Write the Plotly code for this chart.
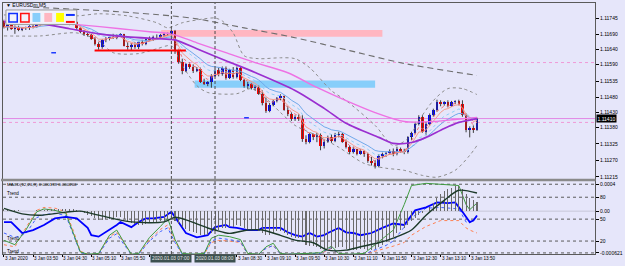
import plotly.graph_objects as go
import pandas as pd

# ---------------- data: EURUSDm M5, 3 Jan 2020 (bar 0 = 03:10) ----------------
PT = 1e-5  # prices below are given in points (price * 1e5)

open_pts = [111735, 111715, 111724, 111710, 111715, 111706, 111713, 111711, 111720, 111715,
            111722, 111733, 111728, 111735, 111731, 111733, 111728, 111731, 111733, 111726,
            111731, 111711, 111698, 111693, 111689, 111676, 111660, 111649, 111673, 111680,
            111684, 111680, 111689, 111691, 111654, 111649, 111657, 111649, 111665, 111660,
            111676, 111673, 111684, 111682, 111689, 111693, 111691, 111704, 111635, 111599,
            111569, 111591, 111582, 111569, 111576, 111533, 111526, 111531, 111553, 111571,
            111558, 111579, 111546, 111571, 111549, 111578, 111540, 111518, 111526, 111513,
            111515, 111493, 111462, 111436, 111456, 111469, 111478, 111484, 111440, 111424,
            111407, 111416, 111409, 111340, 111332, 111358, 111347, 111356, 111318, 111333,
            111349, 111336, 111356, 111360, 111333, 111316, 111299, 111307, 111293, 111302,
            111291, 111269, 111260, 111251, 111284, 111291, 111296, 111302, 111291, 111309,
            111302, 111298, 111347, 111362, 111391, 111416, 111366, 111391, 111421, 111438,
            111465, 111458, 111464, 111451, 111465, 111467, 111460, 111421, 111371, 111378,
            111373]
high_pts = [111740, 111726, 111728, 111721, 111720, 111715, 111717, 111722, 111724, 111726,
            111737, 111740, 111737, 111740, 111737, 111737, 111735, 111737, 111740, 111735,
            111735, 111715, 111706, 111697, 111693, 111682, 111665, 111676, 111682, 111687,
            111693, 111691, 111695, 111693, 111665, 111662, 111665, 111669, 111673, 111680,
            111684, 111687, 111691, 111693, 111695, 111697, 111708, 111706, 111640, 111610,
            111595, 111597, 111591, 111582, 111580, 111543, 111535, 111558, 111576, 111580,
            111584, 111584, 111576, 111582, 111584, 111582, 111543, 111532, 111529, 111521,
            111520, 111504, 111480, 111462, 111473, 111482, 111491, 111487, 111451, 111431,
            111421, 111424, 111421, 111354, 111362, 111360, 111362, 111360, 111340, 111353,
            111358, 111362, 111366, 111362, 111340, 111321, 111316, 111309, 111307, 111304,
            111296, 111282, 111271, 111291, 111296, 111299, 111307, 111310, 111316, 111313,
            111309, 111351, 111366, 111399, 111421, 111421, 111399, 111427, 111443, 111473,
            111471, 111468, 111471, 111469, 111471, 111473, 111471, 111427, 111384, 111387,
            111413]
low_pts = [111711, 111704, 111706, 111693, 111702, 111702, 111706, 111706, 111711, 111713,
           111717, 111724, 111726, 111726, 111726, 111724, 111724, 111726, 111722, 111722,
           111706, 111695, 111686, 111684, 111673, 111654, 111640, 111643, 111665, 111671,
           111676, 111675, 111682, 111651, 111640, 111637, 111643, 111642, 111654, 111655,
           111669, 111669, 111677, 111677, 111682, 111686, 111687, 111626, 111593, 111558,
           111565, 111576, 111562, 111565, 111529, 111522, 111518, 111513, 111549, 111551,
           111553, 111540, 111542, 111543, 111544, 111535, 111513, 111509, 111507, 111504,
           111489, 111454, 111429, 111431, 111451, 111464, 111471, 111436, 111418, 111402,
           111402, 111402, 111332, 111324, 111327, 111338, 111331, 111304, 111310, 111329,
           111329, 111331, 111347, 111329, 111310, 111291, 111293, 111287, 111289, 111282,
           111262, 111253, 111243, 111247, 111277, 111282, 111289, 111284, 111287, 111296,
           111291, 111293, 111338, 111358, 111387, 111362, 111354, 111387, 111416, 111433,
           111451, 111453, 111447, 111449, 111458, 111454, 111416, 111364, 111347, 111362,
           111369]
close_pts = [111715, 111724, 111710, 111717, 111706, 111713, 111711, 111720, 111715, 111724,
             111733, 111728, 111735, 111731, 111733, 111728, 111731, 111733, 111726, 111731,
             111711, 111698, 111693, 111689, 111676, 111660, 111649, 111673, 111680, 111684,
             111680, 111689, 111691, 111654, 111649, 111657, 111649, 111665, 111660, 111676,
             111673, 111684, 111682, 111689, 111693, 111691, 111704, 111635, 111599, 111569,
             111591, 111582, 111569, 111576, 111533, 111526, 111531, 111553, 111571, 111558,
             111579, 111546, 111571, 111549, 111578, 111540, 111518, 111526, 111513, 111515,
             111493, 111462, 111436, 111456, 111469, 111478, 111484, 111440, 111424, 111407,
             111416, 111409, 111340, 111332, 111358, 111347, 111356, 111318, 111333, 111349,
             111336, 111356, 111360, 111333, 111316, 111299, 111307, 111293, 111302, 111291,
             111269, 111260, 111251, 111284, 111291, 111296, 111302, 111291, 111309, 111302,
             111298, 111347, 111362, 111391, 111416, 111366, 111391, 111421, 111438, 111465,
             111458, 111464, 111451, 111465, 111467, 111460, 111421, 111371, 111378, 111373,
             111410]

# visible time labels (the ones under the two vertical-line tags are hidden)
time_tick_bars = [0, 8, 16, 24, 32, 64, 72, 80, 88, 96, 104, 112, 120, 128]
time_tick_labels = ["3 Jan 2020", "3 Jan 03:50", "3 Jan 04:30", "3 Jan 05:10", "3 Jan 05:50",
                    "3 Jan 08:30", "3 Jan 09:10", "3 Jan 09:50", "3 Jan 10:30", "3 Jan 11:10",
                    "3 Jan 11:50", "3 Jan 12:30", "3 Jan 13:10", "3 Jan 13:50"]
time_mark_bars = [0, 8, 16, 24, 32, 40, 48, 56, 64, 72, 80, 88, 96, 104, 112, 120, 128]

price_ticks = [1.11745, 1.11690, 1.11640, 1.11590, 1.11535, 1.11480,
               1.11430, 1.11380, 1.11325, 1.11270, 1.11215]
current_price = 1.11410

# moving averages / bands (bar index, price points)
purple_bars = [0, 10, 18, 26, 34, 42, 47, 53, 61, 69, 80, 88, 94, 103, 107, 112, 116, 121, 125, 130]
purple_pts = [111733, 111727, 111710, 111693, 111683, 111677, 111673, 111643, 111603, 111564,
              111504, 111444, 111394, 111347, 111327, 111330, 111347, 111377, 111397, 111410]
pink_bars = [0, 10, 21, 32, 40, 46, 53, 61, 69, 78, 86, 94, 102, 110, 118, 124, 130]
pink_pts = [111737, 111733, 111723, 111710, 111700, 111693, 111663, 111630, 111597, 111563,
            111514, 111470, 111430, 111400, 111400, 111407, 111414]
slow_bars = [8, 30, 46, 53, 66, 80, 95, 110, 130]
slow_pts = [111782, 111768, 111753, 111743, 111713, 111680, 111637, 111594, 111554]
upper_bars = [0, 10, 20, 26, 34, 42, 45, 49, 55, 58, 60, 63, 66, 70, 76, 80, 84, 90, 94, 102,
              107, 111, 114, 118, 122, 126, 130]
upper_pts = [111756, 111760, 111753, 111760, 111753, 111730, 111713, 111730, 111743, 111746,
             111736, 111696, 111620, 111610, 111613, 111610, 111580, 111503, 111470, 111387,
             111320, 111343, 111403, 111470, 111510, 111510, 111490]
lower_bars = [0, 10, 20, 26, 30, 37, 42, 46, 49, 53, 56, 64, 68, 72, 76, 80, 86, 92, 99, 105,
              110, 115, 119, 124, 128, 130]
lower_pts = [111686, 111686, 111696, 111670, 111630, 111627, 111643, 111653, 111587, 111520,
             111497, 111493, 111510, 111477, 111430, 111387, 111353, 111314, 111260, 111244,
             111237, 111220, 111214, 111237, 111287, 111320]

# chart objects
zone_pink = [43.2, 104.0, 1.11683, 1.11706]
zone_blue = [52.4, 102.0, 1.11513, 1.11537]
support_line = [24.9, 50.0, 1.11637]
dotted_levels = [1.11597, 1.11397]
vline_bars = [46, 58]
vline_labels = ["2020.01.03 07:00", "2020.01.03 08:00"]
dash_marks = [[13.0, 14.3, 1.11630], [66.0, 67.3, 1.11413]]

# lower window: MACD histogram (units of 1e-5) and its signal
macd_e5 = [3, 2, 2, 1, 1, 0, 0, 0, 0, 1,
           2, 2, 3, 3, 3, 3, 3, 3, 3, 3,
           1, -1, -3, -5, -7, -10, -13, -13, -12, -11,
           -10, -9, -9, -12, -15, -17, -19, -20, -20, -19,
           -18, -17, -16, -15, -14, -12, -10, -14, -19, -24,
           -27, -29, -31, -33, -35, -36, -35, -33, -30, -28,
           -25, -25, -23, -23, -21, -22, -25, -26, -27, -28,
           -30, -33, -36, -35, -33, -30, -29, -32, -35, -38,
           -40, -40, -46, -50, -52, -52, -53, -56, -57, -57,
           -56, -55, -53, -54, -56, -58, -58, -58, -57, -57,
           -58, -58, -57, -54, -50, -46, -42, -38, -33, -28,
           -25, -20, -15, -10, -6, -3, 0, 6, 12, 19,
           25, 30, 33, 35, 37, 37, 33, 26, 20, 16,
           14]
signal_bars = [0, 5, 10, 17, 21, 26, 35, 44, 47, 50, 56, 58, 62, 67, 71, 76, 80, 85, 89, 94,
               98, 103, 107, 112, 116, 121, 125, 130]
signal_e5 = [4, -4, -6, -1.5, 0, -6, -16, -16, -9, -13, -25, -28, -33, -28, -28, -36, -43, -47,
             -58, -58, -53, -47, -40, -28, -6, 16, 31, 27]
blue_bars = [0, 2, 5, 8, 11, 14, 17, 20, 23, 24, 26, 28, 31, 32, 35, 37, 39, 41, 44, 46,
             48, 50, 53, 56, 58, 61, 62, 64, 67, 70, 71, 76, 78, 80, 82, 84, 86, 88, 89, 92,
             94, 96, 98, 101, 104, 107, 110, 113, 116, 119, 122, 124, 126, 128, 129, 130]
blue_vals = [46, 46, 31, 35, 42, 51, 53, 51, 38, 28, 26, 32, 42, 46, 39, 46, 51, 51, 53, 60,
             46, 31, 25, 28, 39, 42, 39, 38, 35, 35, 38, 38, 32, 28, 26, 31, 26, 28, 31, 38,
             32, 31, 28, 31, 38, 44, 42, 62, 66, 73, 72, 73, 60, 46, 48, 55]
stoch_bars = [0, 3, 6, 9, 11, 14, 17, 19, 21, 23, 26, 29, 31, 33, 35, 37, 40, 43, 45, 47,
              49, 52, 55, 57, 59, 62, 65, 67, 70, 72, 74, 76, 78, 83, 87, 89, 90, 92, 95, 99,
              102, 105, 107, 110, 112, 116, 120, 125, 127, 128, 130]
stoch_green = [21, 15, 35, 60, 64, 62, 58, 32, 5, 2, 3, 28, 35, 18, 2, 3, 25, 40, 51, 22,
               3, 2, 3, 24, 28, 26, 22, 3, 2, 12, 17, 3, 2, 3, 4, 10, 13, 3, 2, 3,
               15, 28, 35, 70, 96, 99, 98, 96, 70, 63, 72]
stoch_blue = [31, 25, 30, 52, 56, 58, 55, 30, 4, 2, 2, 24, 30, 15, 2, 2, 20, 33, 38, 18,
              2, 2, 2, 20, 24, 22, 19, 2, 2, 10, 14, 2, 2, 2, 3, 9, 11, 2, 2, 2,
              8, 14, 20, 40, 52, 65, 66, 64, 46, 45, 53]
stoch_orange = [15, 12, 38, 62, 66, 65, 60, 35, 6, 2, 2, 26, 32, 16, 2, 2, 22, 36, 42, 20,
                2, 2, 2, 18, 21, 20, 18, 2, 2, 10, 14, 2, 2, 2, 2, 8, 10, 2, 2, 2,
                6, 10, 13, 18, 28, 40, 48, 48, 38, 35, 31]
osc_levels = [80, 50, 20]
macd_levels = [0.0004, -0.000621]

# ---------------- geometry helpers (pixel -> paper) ----------------
W, H = 625, 266
ML, MR, MT, MB = 2, 21, 2, 12
PW, PH = W - ML - MR, H - MT - MB
def px(x): return (x - ML) / PW
def py(y): return (H - MB - y) / PH

FONT = "Liberation Sans, Arial, sans-serif"
BG = "#E6E6FA"
XR = [-0.27, 162.43]

n = len(close_pts)
idx = list(range(n))
o = [v * PT for v in open_pts]
h = [v * PT for v in high_pts]
l = [v * PT for v in low_pts]
c = [v * PT for v in close_pts]
close_s = pd.Series(c)

fig = go.Figure()

def pline(xs, ys, color, width=1, dash=None, shape="spline", xa="x", ya="y"):
    fig.add_trace(go.Scatter(x=xs, y=ys, mode="lines", xaxis=xa, yaxis=ya,
                             line=dict(color=color, width=width, dash=dash, shape=shape,
                                       smoothing=0.8 if shape == "spline" else None),
                             hoverinfo="skip"))

# bands and slow averages (behind)
pline(upper_bars, [v * PT for v in upper_pts], "#8c8c8c", 1, "dot")
pline(lower_bars, [v * PT for v in lower_pts], "#8c8c8c", 1, "dot")
pline(slow_bars, [v * PT for v in slow_pts], "#6e6e6e", 1.1, "6px,4px")

# candles: wicks then bodies
wx, wy = [], []
for i in idx:
    wx += [i, i, None]
    wy += [l[i], h[i], None]
fig.add_trace(go.Scatter(x=wx, y=wy, mode="lines", line=dict(color="#3c3c3c", width=1),
                         hoverinfo="skip"))
bases = [min(a, b) for a, b in zip(o, c)]
hgts = [max(abs(a - b), 0.000012) for a, b in zip(o, c)]
cols = ["#0000FF" if cc >= oo else "#FF0000" for oo, cc in zip(o, c)]
fig.add_trace(go.Bar(x=idx, y=hgts, base=bases, width=0.7,
                     marker=dict(color=cols, line=dict(width=0)), hoverinfo="skip"))

# fast averages derived from the closes
pline(idx, close_s.ewm(span=14, adjust=False).mean().tolist(), "#6fa8ea", 1, None, "linear")
pline(idx, close_s.ewm(span=10, adjust=False).mean().tolist(), "#8fcdf5", 1, "dot", "linear")
pline(idx, close_s.ewm(span=6, adjust=False).mean().tolist(), "#f59a8a", 1, None, "linear")
pline(idx, close_s.ewm(span=4, adjust=False).mean().tolist(), "#f07070", 1, "dot", "linear")
pline(pink_bars, [v * PT for v in pink_pts], "#ee72e4", 1.4)
pline(purple_bars, [v * PT for v in purple_pts], "#9a2fd0", 1.7)

for a, b, p in dash_marks:
    pline([a, b], [p, p], "#1f3cff", 1.5, None, "linear")

# ---------------- lower window ----------------
fig.add_trace(go.Bar(x=idx, y=[v * 1e-5 for v in macd_e5], xaxis="x2", yaxis="y3",
                     width=0.28, marker=dict(color="#6a6a6a", line=dict(width=0)),
                     hoverinfo="skip"))
pline(stoch_bars, stoch_orange, "#ff7f50", 1, "dot", "linear", "x2", "y2")
pline(stoch_bars, stoch_blue, "#4060ff", 1, "dot", "linear", "x2", "y2")
pline(stoch_bars, stoch_green, "#3f9a3f", 1, None, "linear", "x2", "y2")
pline(blue_bars, blue_vals, "#0000ff", 1.8, None, "linear", "x2", "y2")
pline(signal_bars, [v * 1e-5 for v in signal_e5], "#1d3a2a", 1.4, None, "spline", "x2", "y3")

# ---------------- shapes ----------------
shapes = []
shapes.append(dict(type="rect", xref="x", yref="y", x0=zone_pink[0], x1=zone_pink[1],
                   y0=zone_pink[2], y1=zone_pink[3], fillcolor="#FFB6C1", line=dict(width=0),
                   layer="below"))
shapes.append(dict(type="rect", xref="x", yref="y", x0=zone_blue[0], x1=zone_blue[1],
                   y0=zone_blue[2], y1=zone_blue[3], fillcolor="#87CEFA", line=dict(width=0),
                   layer="below"))
shapes.append(dict(type="line", xref="x", yref="y", x0=support_line[0], x1=support_line[1],
                   y0=support_line[2], y1=support_line[2], line=dict(color="#FF0000", width=2)))
shapes.append(dict(type="line", xref="paper", yref="y", x0=0, x1=1, y0=current_price,
                   y1=current_price, line=dict(color="#e28ae6", width=1), layer="below"))
for lv in dotted_levels:
    shapes.append(dict(type="line", xref="paper", yref="y", x0=0, x1=1, y0=lv, y1=lv,
                       line=dict(color="#f09ad8", width=1, dash="dot"), layer="below"))
for lv in osc_levels:
    shapes.append(dict(type="line", xref="paper", yref="y2", x0=0, x1=1, y0=lv, y1=lv,
                       line=dict(color="#5a5a5a", width=1, dash="dot"), layer="below"))
for lv in macd_levels:
    shapes.append(dict(type="line", xref="paper", yref="y3", x0=0, x1=1, y0=lv, y1=lv,
                       line=dict(color="#5a5a5a", width=1, dash="dot"), layer="below"))
shapes.append(dict(type="line", xref="paper", yref="y3", x0=0, x1=1, y0=0, y1=0,
                   line=dict(color="#c8c8d8", width=1), layer="below"))
for vb in vline_bars:
    shapes.append(dict(type="line", xref="x", yref="paper", x0=vb, x1=vb, y0=0, y1=1,
                       line=dict(color="#4a4a4a", width=1, dash="3px,2px")))
# separator between windows
shapes.append(dict(type="rect", xref="paper", yref="paper", x0=px(0), x1=px(604.5),
                   y0=py(181), y1=py(178.5), fillcolor="#8a8a8a", line=dict(width=0)))
# objects toolbar at top-left
shapes.append(dict(type="rect", xref="paper", yref="paper", x0=px(5), x1=px(77), y0=py(23.5),
                   y1=py(9), fillcolor="#f2f2fb", line=dict(color="#9a9a9a", width=1)))
shapes.append(dict(type="rect", xref="paper", yref="paper", x0=px(8), x1=px(16.5), y0=py(21),
                   y1=py(12.5), fillcolor="rgba(0,0,0,0)", line=dict(color="#1030ff", width=1.5)))
shapes.append(dict(type="rect", xref="paper", yref="paper", x0=px(20), x1=px(28.5), y0=py(21),
                   y1=py(12.5), fillcolor="rgba(0,0,0,0)", line=dict(color="#ff1010", width=1.5)))
for x0, col in [(32, "#87CEFA"), (44, "#FFB6C1"), (56, "#FFFF00")]:
    shapes.append(dict(type="rect", xref="paper", yref="paper", x0=px(x0), x1=px(x0 + 8),
                       y0=py(21), y1=py(12), fillcolor=col, line=dict(width=0)))
shapes.append(dict(type="line", xref="paper", yref="paper", x0=px(66), x1=px(75), y0=py(14),
                   y1=py(14), line=dict(color="#1030ff", width=2)))
shapes.append(dict(type="line", xref="paper", yref="paper", x0=px(66), x1=px(75), y0=py(21),
                   y1=py(21), line=dict(color="#ff1010", width=2)))

# ---------------- annotations ----------------
ann = []
for b, t in zip(time_tick_bars, time_tick_labels):
    ann.append(dict(x=b, xref="x2", y=py(258.5), yref="paper", text=t, showarrow=False,
                    xanchor="left", yanchor="middle", xshift=-1,
                    font=dict(size=4.6, color="#000000", family=FONT)))
for vb, t in zip(vline_bars, vline_labels):
    ann.append(dict(x=vb, xref="x2", y=py(258.5), yref="paper", text=t, showarrow=False,
                    xanchor="center", yanchor="middle", bgcolor="#3c5050", borderpad=1,
                    font=dict(size=4.8, color="#e8e8e8", family=FONT)))
ann.append(dict(x=1, xref="paper", y=current_price, yref="y", text=f"{current_price:.5f}",
                showarrow=False, xanchor="left", yanchor="middle", xshift=1,
                bgcolor="#000000", borderpad=0.5, font=dict(size=5, color="#ffffff", family=FONT)))
ann.append(dict(x=px(3), xref="paper", y=py(4.5), yref="paper", text="\u25bc EURUSDm,M5",
                showarrow=False, xanchor="left", yanchor="middle",
                font=dict(size=5, color="#000000", family=FONT)))
ann.append(dict(x=px(4), xref="paper", y=py(184.5), yref="paper",
                text="MACD(12,26,9) 0.000139 0.000266", showarrow=False, xanchor="left",
                yanchor="middle", font=dict(size=4.4, color="#000000", family=FONT)))
for yy in [193, 238, 251]:
    ann.append(dict(x=px(4), xref="paper", y=py(yy), yref="paper", text="Trend",
                    showarrow=False, xanchor="left", yanchor="middle",
                    font=dict(size=4.6, color="#000000", family=FONT)))

axis_common = dict(showgrid=False, zeroline=False, showline=True, linecolor="#5a5a5a",
                   linewidth=1, mirror=True)
fig.update_layout(
    width=W, height=H, margin=dict(l=ML, r=MR, t=MT, b=MB),
    paper_bgcolor=BG, plot_bgcolor=BG, showlegend=False, barmode="overlay", bargap=0,
    hovermode=False, font=dict(family=FONT, size=5, color="#000000"),
    xaxis=dict(domain=[0, 1], range=XR, anchor="y", showticklabels=False, ticks="",
               **axis_common),
    yaxis=dict(domain=[py(179), 1], range=[1.11207, 1.11796], side="right", anchor="x",
               tickvals=price_ticks, tickformat=".5f", ticks="outside", ticklen=3,
               tickcolor="#000000", tickfont=dict(size=5, family=FONT), **axis_common),
    xaxis2=dict(domain=[0, 1], range=XR, anchor="y2", tickvals=time_mark_bars,
                showticklabels=False, ticks="outside", ticklen=2, tickcolor="#000000",
                **axis_common),
    yaxis2=dict(domain=[0, py(181)], range=[2.27, 101.8], side="right", anchor="x2",
                tickvals=osc_levels, ticks="outside", ticklen=3, tickcolor="#000000",
                tickfont=dict(size=5, family=FONT), **axis_common),
    yaxis3=dict(overlaying="y2", range=[-0.000637, 0.000444], side="right", anchor="x2",
                tickvals=[0.0004, 0.0, -0.000621], ticktext=["0.0004", "0.00", "-0.000621"],
                ticks="outside", ticklen=3, tickcolor="#000000",
                tickfont=dict(size=5, family=FONT), showgrid=False, zeroline=False),
    shapes=shapes, annotations=ann,
)

fig.write_html("out.html", config={"displayModeBar": False, "staticPlot": True})
